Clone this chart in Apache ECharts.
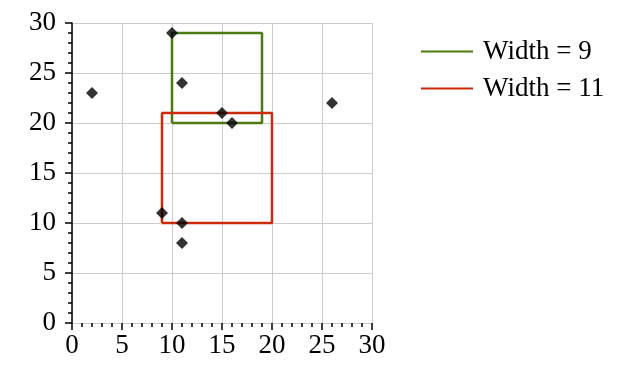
<!DOCTYPE html>
<html><head><meta charset="utf-8">
<script src="https://cdn.jsdelivr.net/npm/echarts@6/dist/echarts.min.js"></script>
<style>html,body{margin:0;padding:0;background:#fff}#c{width:625px;height:376px}</style>
</head><body><div id="c"></div>
<script>
const points = [[2,23],[10,29],[11,24],[15,21],[16,20],[26,22],[9,11],[11,10],[11,8]];
const seriesNames = ['Width = 9', 'Width = 11'];
const rectCorners = [[10,20],[9,10]];
const rectWidths = [9, 11];
const rectColors = ['#4a7a10', '#cc2a0a'];
const xTicks = [0,5,10,15,20,25,30];
const yTicks = [0,5,10,15,20,25,30];

function rectPath(c, w) {
  const [x, y] = c;
  return [[x,y],[x+w,y],[x+w,y+w],[x,y+w],[x,y]];
}
const font = 'Liberation Serif';
const chart = echarts.init(document.getElementById('c'), null, {renderer:'canvas'});
chart.setOption({
  animation: false,
  grid: {left: 72, top: 23, width: 300, height: 300, containLabel: false},
  xAxis: {
    type: 'value', min: xTicks[0], max: xTicks[xTicks.length-1], interval: 5,
    axisLine: {show: true, lineStyle: {color: '#cccccc', width: 1}},
    axisTick: {show: true, length: 7, inside: false, lineStyle: {color: '#000', width: 1.5}},
    minorTick: {show: true, splitNumber: 5, length: 4, lineStyle: {color: '#000', width: 1.5}},
    splitLine: {show: true, lineStyle: {color: '#cccccc', width: 1}},
    axisLabel: {color: '#000', fontFamily: font, fontSize: 27, margin: 9}
  },
  yAxis: {
    type: 'value', min: yTicks[0], max: yTicks[yTicks.length-1], interval: 5,
    axisLine: {show: true, onZero: false, lineStyle: {color: '#000', width: 1.5}},
    axisTick: {show: true, length: 7, inside: false, lineStyle: {color: '#000', width: 1.5}},
    minorTick: {show: true, splitNumber: 5, length: 4, lineStyle: {color: '#000', width: 1.5}},
    splitLine: {show: true, lineStyle: {color: '#cccccc', width: 1}},
    axisLabel: {color: '#000', fontFamily: font, fontSize: 27, margin: 16}
  },
  legend: {
    left: 421, top: 38, orient: 'vertical', icon: 'rect', padding: 0,
    itemWidth: 52, itemHeight: 2, itemGap: 10,
    textStyle: {fontFamily: font, fontSize: 27, color: '#000', lineHeight: 27, padding: [0,0,0,5]},
    data: seriesNames
  },
  series: [
    {name: seriesNames[0], type: 'line', data: rectPath(rectCorners[0], rectWidths[0]),
     symbol: 'none', lineStyle: {color: rectColors[0], width: 2.5}, itemStyle: {color: rectColors[0]}, z: 2},
    {name: seriesNames[1], type: 'line', data: rectPath(rectCorners[1], rectWidths[1]),
     symbol: 'none', lineStyle: {color: rectColors[1], width: 2.5}, itemStyle: {color: rectColors[1]}, z: 2},
    {name: 'points', type: 'scatter', data: points, symbol: 'diamond', symbolSize: 12,
     itemStyle: {color: '#000'}, z: 5}
  ]
});
</script></body></html>
